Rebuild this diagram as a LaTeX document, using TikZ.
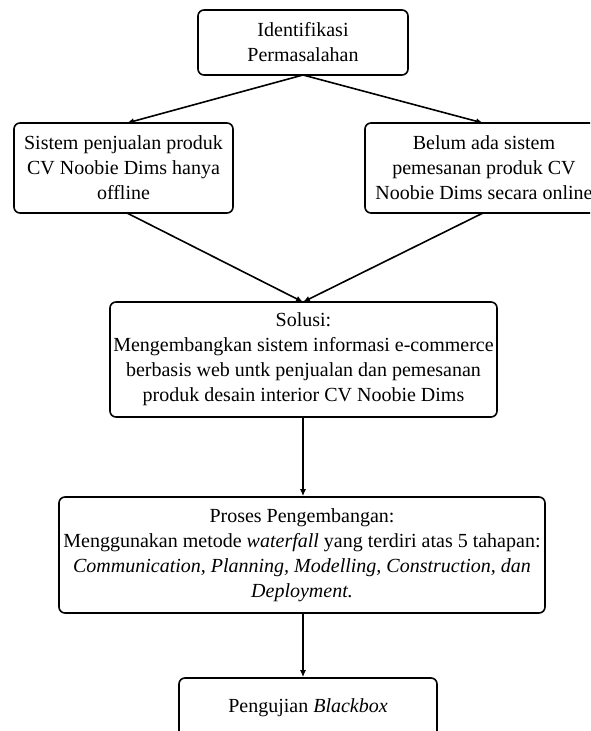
\documentclass[tikz,border=0pt]{standalone}
\usepackage{fontspec}
\setmainfont{Liberation Serif}
\usetikzlibrary{arrows.meta}
\tikzset{
  box/.style={draw, line width=1.6pt, rounded corners=6pt, align=center, inner sep=0pt,
    font=\fontsize{20}{25}\selectfont},
  conn/.style={line width=1.6pt, -{Latex[length=7pt,width=6pt]}}
}
\begin{document}
\begin{tikzpicture}[x=1pt,y=-1pt]
\useasboundingbox (0,0) rectangle (590,731);
\clip (0,0) rectangle (590,731);
\node[box, minimum width=210pt, minimum height=65pt] (id) at (303,42.5) {Identifikasi\\Permasalahan};
\node[box, minimum width=219pt, minimum height=90pt] (l) at (123.5,168) {Sistem penjualan produk\\CV Noobie Dims hanya\\offline};
\node[box, minimum width=238pt, minimum height=90pt] (r) at (484,168) {Belum ada sistem\\pemesanan produk CV\\Noobie Dims secara online};
\node[box, minimum width=387pt, minimum height=115pt] (sol) at (303.5,359.5) {Solusi:\\Mengembangkan sistem informasi e-commerce\\berbasis web untk penjualan dan pemesanan\\produk desain interior CV Noobie Dims};
\node[box, minimum width=486pt, minimum height=116pt] (pro) at (302,555) {Proses Pengembangan:\\Menggunakan metode \textit{waterfall} yang terdiri atas 5 tahapan:\\\textit{Communication, Planning, Modelling, Construction, dan}\\\textit{Deployment.}};
\node[box, minimum width=258pt, minimum height=60pt] (bb) at (308,708) {Pengujian \textit{Blackbox}};
\coordinate (lt) at (127,123);
\coordinate (rt) at (483,123);
\coordinate (lb) at (127,213);
\coordinate (rb) at (483,213);
\coordinate (solt) at (303,302);
\coordinate (idb) at (303,75);
\draw[conn] (idb) -- (lt);
\draw[conn] (idb) -- (rt);
\draw[conn] (lb) -- (solt);
\draw[conn] (rb) -- (solt);
\draw[conn] (sol.south -| 303,0) -- (pro.north -| 303,0);
\draw[conn] (pro.south -| 303,0) -- (bb.north -| 303,0);
\end{tikzpicture}
\end{document}
